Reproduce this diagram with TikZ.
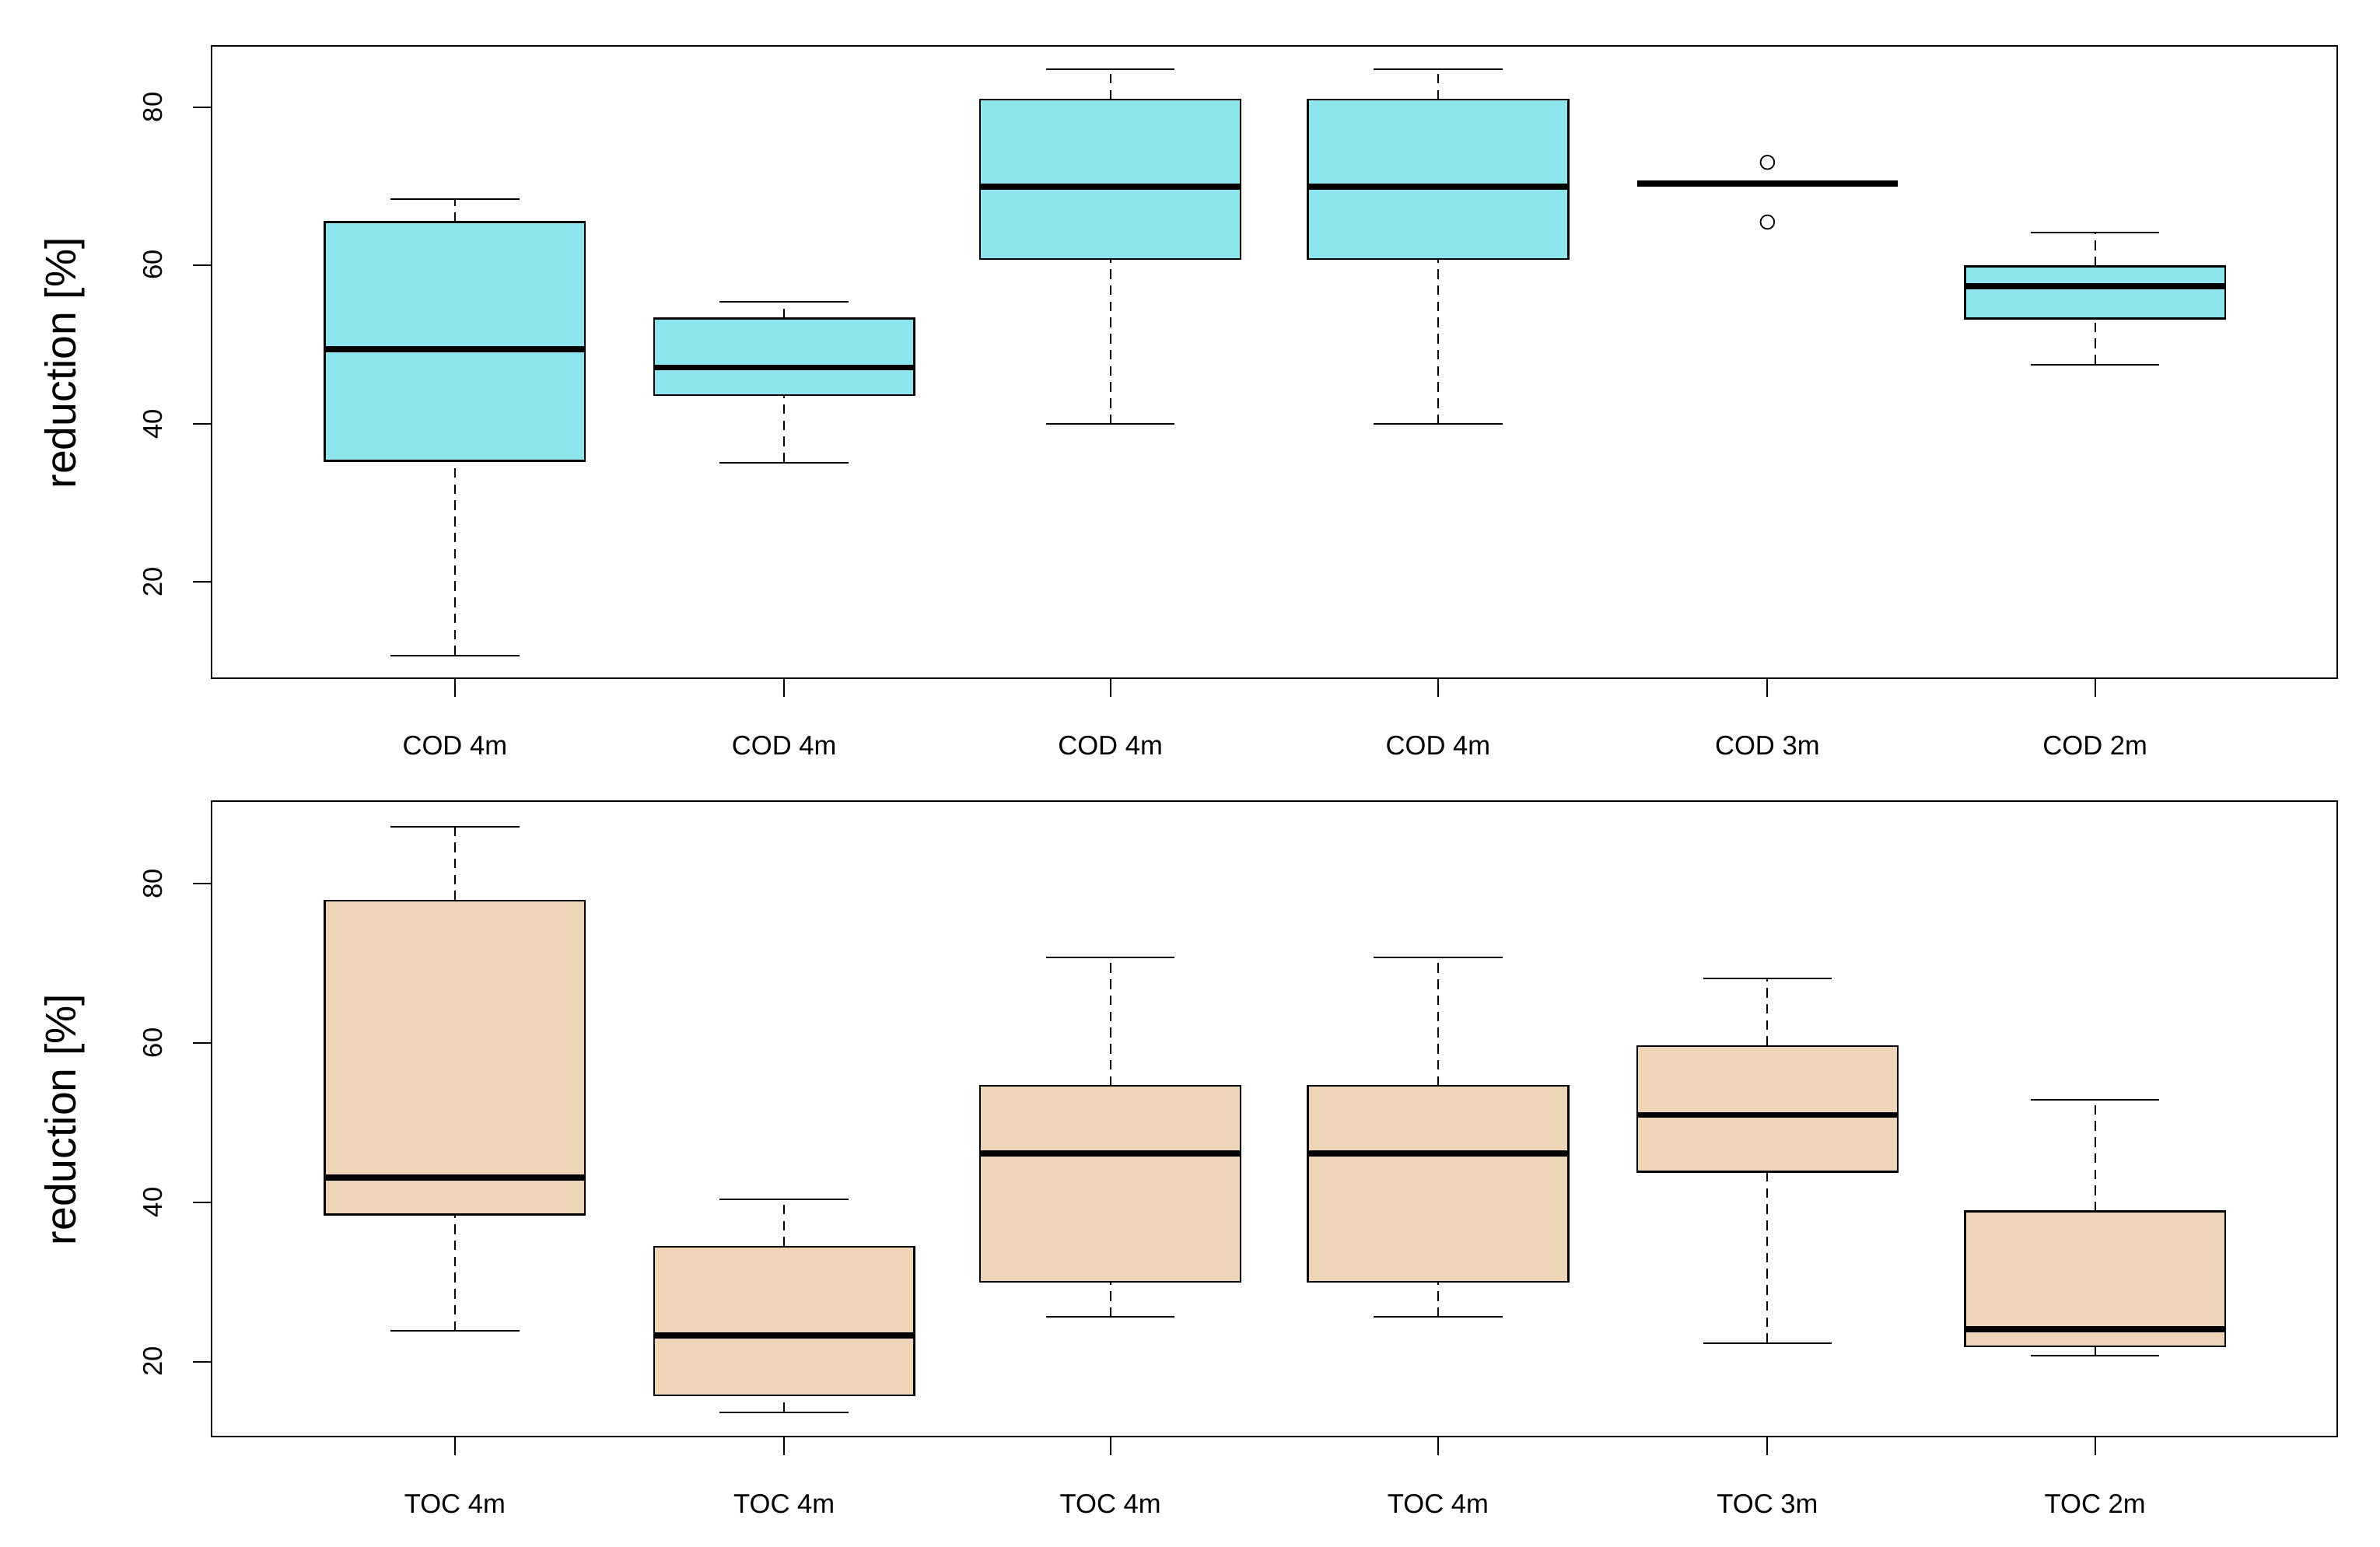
\documentclass[tikz,border=0pt]{standalone}
\usepackage{fontspec}
\setmainfont{Liberation Sans}
\definecolor{cyanbox}{HTML}{8EE5EE}
\definecolor{tanbox}{HTML}{EED5B7}
\tikzset{frame/.style={line width=1.6pt},
 boxs/.style={draw=black,line width=1.8pt},
 med/.style={line width=5.5pt},
 whisk/.style={line width=1.5pt,dash pattern=on 9pt off 6pt},
 wcap/.style={line width=1.5pt},
 tick/.style={line width=1.5pt},
 lab/.style={font=\fontsize{25}{30}\selectfont},
 ylab/.style={font=\fontsize{40}{46}\selectfont,rotate=90}}
\newcommand\bxp[7]{%
 \draw[whisk] (#1,#2)--(#1,#3) (#1,#5)--(#1,#6);
 \draw[wcap] (#1-42,#2)--(#1+42,#2) (#1-42,#6)--(#1+42,#6);
 \filldraw[boxs,fill=#7] (#1-85,#3) rectangle (#1+85,#5);
 \draw[med] (#1-85,#4)--(#1+85,#4);}
\begin{document}
\begin{tikzpicture}[x=0.5mm,y=-0.5mm]
\useasboundingbox (0,0) rectangle (1554,1010);
% top panel
\draw[frame] (138,30) rectangle (1526,443);
\foreach \v/\y in {20/380,40/277,60/173,80/70}{
 \draw[tick] (138,\y)--(126,\y);
 \node[lab,rotate=90] at (100,\y) {\v};}
\node[ylab] at (42,237) {reduction [\%]};
\bxp{297}{428}{301}{228}{145}{130}{cyanbox}
\bxp{512}{302}{258}{240}{208}{197}{cyanbox}
\bxp{725}{277}{169}{122}{65}{45}{cyanbox}
\bxp{939}{277}{169}{122}{65}{45}{cyanbox}
\draw[med] (1069,120)--(1239,120);
\draw[line width=1.3pt] (1154,106) circle (4.5) (1154,145) circle (4.5);
\bxp{1368}{238}{208}{187}{174}{152}{cyanbox}
\foreach \x/\t in {297/COD 4m/s 0.5 bar,512/COD 4m/s 1 bar,725/COD 4m/s 1.5 bar,939/COD 4m/s 2 bar,1154/COD 3m/s 1.5 bar,1368/COD 2m/s 1.5 bar}{
 \draw[tick] (\x,443)--(\x,455);
 \node[lab] at (\x,487) {\t};}
% bottom panel
\draw[frame] (138,523) rectangle (1526,938);
\foreach \v/\y in {20/889,40/785,60/681,80/577}{
 \draw[tick] (138,\y)--(126,\y);
 \node[lab,rotate=90] at (100,\y) {\v};}
\node[ylab] at (42,731) {reduction [\%]};
\bxp{297}{869}{793}{769}{588}{540}{tanbox}
\bxp{512}{922}{911}{872}{814}{783}{tanbox}
\bxp{725}{860}{837}{753}{709}{625}{tanbox}
\bxp{939}{860}{837}{753}{709}{625}{tanbox}
\bxp{1154}{877}{765}{728}{683}{639}{tanbox}
\bxp{1368}{885}{879}{868}{791}{718}{tanbox}
\foreach \x/\t in {297/TOC 4m/s 0.5 bar,512/TOC 4m/s 1 bar,725/TOC 4m/s 1.5 bar,939/TOC 4m/s 2 bar,1154/TOC 3m/s 1.5 bar,1368/TOC 2m/s 1.5 bar}{
 \draw[tick] (\x,938)--(\x,950);
 \node[lab] at (\x,982) {\t};}
\end{tikzpicture}
\end{document}
